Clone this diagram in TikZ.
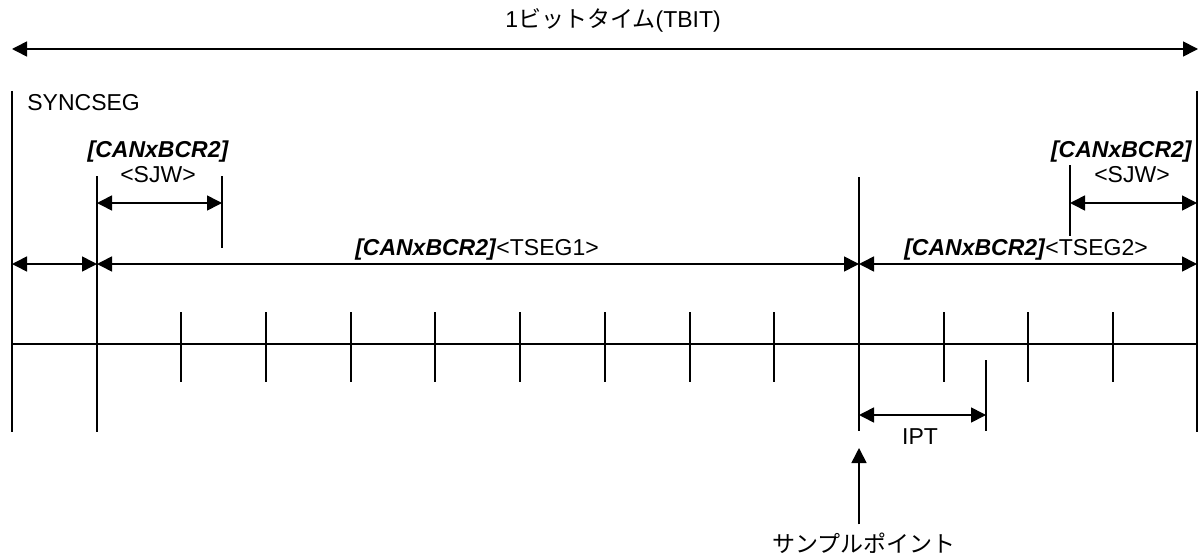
\documentclass[tikz,border=0pt]{standalone}
\usepackage{fontspec}
\setmainfont{Liberation Sans}
\newfontfamily\jpfont{Noto Sans CJK JP}
\usetikzlibrary{arrows.meta}
\begin{document}
\begin{tikzpicture}[x=0.5pt,y=-0.5pt,
  line/.style={line width=0.8pt},
  dim/.style={line width=0.8pt,{Triangle[length=7.5pt,width=7.5pt]}-{Triangle[length=7.5pt,width=7.5pt]}},
  lbl/.style={inner sep=0pt,font=\fontsize{11.5}{13}\selectfont},
  bi/.style={inner sep=0pt,font=\fontsize{11.5}{13}\selectfont\bfseries\itshape}]
\useasboundingbox (0,0) rectangle (1198,556);
% quanta x positions
\foreach \k in {0,...,14}{\pgfmathsetmacro{\qx}{round(12+\k*84.7)}\coordinate (q\k) at (\qx,344);}
% top TBIT arrow
\coordinate (tl) at (12,49);
\coordinate (tr) at (1198,49);
\draw[dim] (tl) -- (tr);
\node[lbl] (tbit) at (613,20) {1{\jpfont ビットタイム}(TBIT)};
% main vertical lines
\coordinate (l0a) at (12,91); \coordinate (l0b) at (12,432);
\coordinate (l1a) at (97,176); \coordinate (l1b) at (97,432);
\coordinate (l2a) at (222,176); \coordinate (l2b) at (222,248);
\coordinate (spa) at (859,177); \coordinate (spb) at (859,431);
\coordinate (rra) at (1197,91); \coordinate (rrb) at (1197,432);
\coordinate (r2a) at (1070,165); \coordinate (r2b) at (1070,236);
\coordinate (ipa) at (986,360); \coordinate (ipb) at (986,431);
\draw[line] (l0a) -- (l0b);
\draw[line] (l1a) -- (l1b);
\draw[line] (l2a) -- (l2b);
\draw[line] (spa) -- (spb);
\draw[line] (rra) -- (rrb);
\draw[line] (r2a) -- (r2b);
\draw[line] (ipa) -- (ipb);
% timeline
\coordinate (tla) at (12,344); \coordinate (tlb) at (1198,344);
\draw[line] (tla) -- (tlb);
\foreach \k in {2,...,9,11,12,13}{\draw[line] ([yshift=16pt]q\k) -- ([yshift=-19pt]q\k);}
% labels
\node[lbl,anchor=west] (sync) at (27,103) {SYNCSEG};
\node[bi] (c1) at (158,152) {[CANxBCR2]};
\node[lbl] (sjw1) at (158,175) {<SJW>};
\node[bi,anchor=east] (c2) at (1192,152) {[CANxBCR2]};
\node[lbl] (sjw2) at (1132,175) {<SJW>};
% dimension arrows
\coordinate (a1) at (97,203); \coordinate (a2) at (222,203);
\draw[dim] (a1) -- (a2);
\coordinate (b1) at (1070,203); \coordinate (b2) at (1197,203);
\draw[dim] (b1) -- (b2);
\coordinate (s0) at (12,264); \coordinate (s1) at (97,264);
\coordinate (s2) at (859,264); \coordinate (s3) at (1197,264);
\draw[dim] (s0) -- (s1);
\draw[dim] (s1) -- (s2);
\draw[dim] (s2) -- (s3);
\node[lbl] (ts1) at (477,250) {\textbf{\textit{[CANxBCR2]}}<TSEG1>};
\node[lbl] (ts2) at (1026,250) {\textbf{\textit{[CANxBCR2]}}<TSEG2>};
% IPT
\coordinate (i1) at (859,415); \coordinate (i2) at (986,415);
\draw[dim] (i1) -- (i2);
\node[lbl] (ipt) at (920,437) {IPT};
% sample point arrow
\node[lbl] (sp) at (864,543) {\jpfont サンプルポイント};
\coordinate (up) at (859,448);
\draw[line,-{Triangle[length=7.5pt,width=7.5pt]}] (sp.north -| up) ++(0,-8) -- (up);
\end{tikzpicture}
\end{document}
